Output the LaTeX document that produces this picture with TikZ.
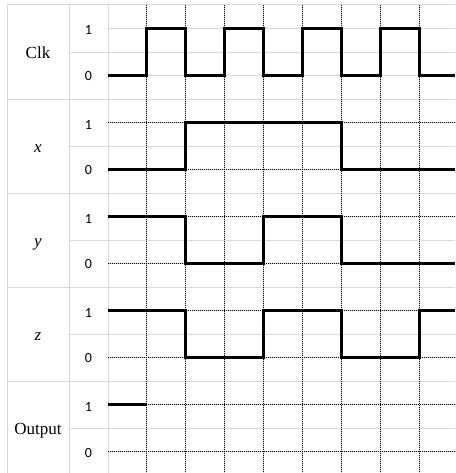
\documentclass[tikz,border=0pt]{standalone}
\usepackage{fontspec}
\setmainfont{Liberation Serif}
\newfontfamily\digitfont{Carlito}
\begin{document}
\begin{tikzpicture}[x=1pt,y=-1pt,
  gridline/.style={draw=gray!30, line width=1pt},
  dotline/.style={draw=black, line width=1pt, dash pattern=on 1pt off 1pt},
  signal/.style={draw=black, line width=3pt, line join=miter, line cap=butt},
  siglabel/.style={font=\fontsize{17}{17}\selectfont, anchor=base, inner sep=0pt},
  levlabel/.style={font=\digitfont\fontsize{14}{14}\selectfont, anchor=base, inner sep=0pt},
  grp/.style={yshift={-(28.525+94.1*#1)*1pt}, xshift=108pt, x=38.94pt, y=-47.05pt}]
\useasboundingbox (0,0) rectangle (455,473);
% gray grid
\foreach \xx in {7,69,108,146.94,185.88,224.82,263.76,302.7,341.64,380.58,419.52}
  \draw[gridline] (\xx,5) -- (\xx,473);
\foreach \g in {0,...,4} {
  \draw[gridline] (7,{5+94.1*\g}) -- (455,{5+94.1*\g});
  \draw[gridline] (69,{52.05+94.1*\g}) -- (455,{52.05+94.1*\g});
  \draw[gridline] (108,{28.525+94.1*\g}) -- (455,{28.525+94.1*\g});
  \draw[gridline] (108,{75.575+94.1*\g}) -- (455,{75.575+94.1*\g});
}
% dotted level lines (x, y, z, Output)
\foreach \g in {1,...,4} {
  \draw[dotline] (108,{28.525+94.1*\g}) -- (455,{28.525+94.1*\g});
  \draw[dotline] (108,{75.575+94.1*\g}) -- (455,{75.575+94.1*\g});
}
% dotted clock-edge verticals
\foreach \xx in {146.94,185.88,224.82,263.76,302.7,341.64,380.58,419.52}
  \draw[dotline] (\xx,5) -- (\xx,473);
% labels
\foreach \g/\name/\txt in {0/clk/Clk, 1/x/\textit{x}, 2/y/\textit{y}, 3/z/\textit{z}, 4/out/Output} {
  \node[siglabel] (lab\name) at (38,{58.05+94.1*\g}) {\txt};
  \node[levlabel] (one\name) at (88.5,{35.0+94.1*\g}) {1};
  \node[levlabel] (zero\name) at (88.5,{80.6+94.1*\g}) {0};
}
% signals
\begin{scope}[grp=0]
  \draw[signal] (0,1) -- (1,1) -- (1,0) -- (2,0) -- (2,1) -- (3,1) -- (3,0) -- (4,0) -- (4,1) -- (5,1) -- (5,0) -- (6,0) -- (6,1) -- (7,1) -- (7,0) -- (8,0) -- (8,1) -- (8.911,1);
\end{scope}
\begin{scope}[grp=1]
  \draw[signal] (0,1) -- (2,1) -- (2,0) -- (6,0) -- (6,1) -- (8.911,1);
\end{scope}
\begin{scope}[grp=2]
  \draw[signal] (0,0) -- (2,0) -- (2,1) -- (4,1) -- (4,0) -- (6,0) -- (6,1) -- (8.911,1);
\end{scope}
\begin{scope}[grp=3]
  \draw[signal] (0,0) -- (2,0) -- (2,1) -- (4,1) -- (4,0) -- (6,0) -- (6,1) -- (8,1) -- (8,0) -- (8.911,0);
\end{scope}
\begin{scope}[grp=4]
  \draw[signal] (0,0) -- (1,0);
\end{scope}
\end{tikzpicture}
\end{document}
